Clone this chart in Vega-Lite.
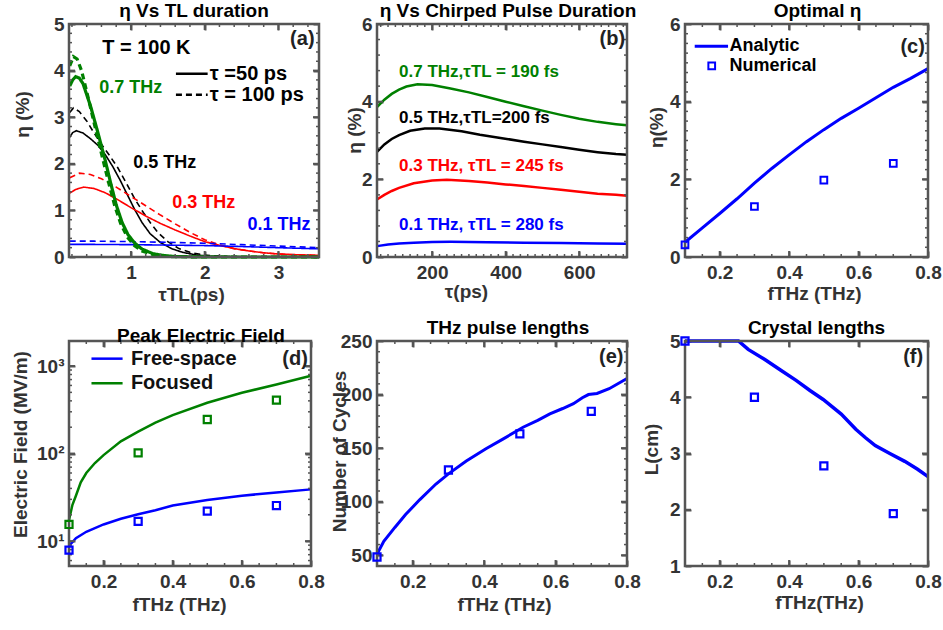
{
"$schema":"https://vega.github.io/schema/vega-lite/v6.json",
"background":"white",
"padding":{"left":10,"top":2,"right":4,"bottom":4},
"columns":3,
"spacing":{"row":84,"column":58},
"bounds":"flush",
"resolve":{"scale":{"color":"independent","strokeDash":"independent"}},
"config":{
 "font":"Liberation Sans",
 "view":{"stroke":null},
 "axis":{"grid":false,"domain":false,"zindex":1,"ticks":true,"labelFont":"Liberation Sans","labelFontSize":19,"labelFontWeight":"bold","labelColor":"#333333","labelFlush":false,"labelOverlap":false,"labelBound":false,"titleFont":"Liberation Sans","titleFontSize":19,"titleFontWeight":"bold","titleColor":"#333333","titleBaseline":"middle","titleAlign":"center","tickColor":"#555555","tickWidth":2,"tickSize":6,"offset":-6},
 "axisBottom":{"labelPadding":6},
 "axisLeft":{"labelPadding":5},
 "title":{"font":"Liberation Sans","fontSize":19,"fontWeight":"bold","color":"#000000","offset":-6,"anchor":"middle","frame":"group","baseline":"bottom"},
 "text":{"font":"Liberation Sans","fontWeight":"bold"}
},
"datasets":{
 "a":[
  {"x":0.17,"y":3.67,"s":"0.7 THz","t":"50"},{"x":0.21,"y":3.8,"s":"0.7 THz","t":"50"},{"x":0.25,"y":3.87,"s":"0.7 THz","t":"50"},{"x":0.3,"y":3.84,"s":"0.7 THz","t":"50"},{"x":0.35,"y":3.72,"s":"0.7 THz","t":"50"},{"x":0.45,"y":3.25,"s":"0.7 THz","t":"50"},{"x":0.55,"y":2.68,"s":"0.7 THz","t":"50"},{"x":0.65,"y":2.08,"s":"0.7 THz","t":"50"},{"x":0.72,"y":1.62,"s":"0.7 THz","t":"50"},{"x":0.8,"y":1.12,"s":"0.7 THz","t":"50"},{"x":0.88,"y":0.74,"s":"0.7 THz","t":"50"},{"x":0.96,"y":0.48,"s":"0.7 THz","t":"50"},{"x":1.05,"y":0.3,"s":"0.7 THz","t":"50"},{"x":1.15,"y":0.17,"s":"0.7 THz","t":"50"},{"x":1.3,"y":0.07,"s":"0.7 THz","t":"50"},{"x":1.45,"y":0.03,"s":"0.7 THz","t":"50"},{"x":1.6,"y":0.01,"s":"0.7 THz","t":"50"},{"x":2.0,"y":0,"s":"0.7 THz","t":"50"},{"x":3.55,"y":0,"s":"0.7 THz","t":"50"},
  {"x":0.17,"y":4.1,"s":"0.7 THz","t":"100"},{"x":0.22,"y":4.3,"s":"0.7 THz","t":"100"},{"x":0.27,"y":4.25,"s":"0.7 THz","t":"100"},{"x":0.33,"y":4.0,"s":"0.7 THz","t":"100"},{"x":0.4,"y":3.55,"s":"0.7 THz","t":"100"},{"x":0.5,"y":2.88,"s":"0.7 THz","t":"100"},{"x":0.6,"y":2.22,"s":"0.7 THz","t":"100"},{"x":0.7,"y":1.58,"s":"0.7 THz","t":"100"},{"x":0.78,"y":1.1,"s":"0.7 THz","t":"100"},{"x":0.86,"y":0.72,"s":"0.7 THz","t":"100"},{"x":0.95,"y":0.43,"s":"0.7 THz","t":"100"},{"x":1.05,"y":0.24,"s":"0.7 THz","t":"100"},{"x":1.15,"y":0.13,"s":"0.7 THz","t":"100"},{"x":1.3,"y":0.05,"s":"0.7 THz","t":"100"},{"x":1.5,"y":0.01,"s":"0.7 THz","t":"100"},{"x":2.0,"y":0,"s":"0.7 THz","t":"100"},{"x":3.55,"y":0,"s":"0.7 THz","t":"100"},
  {"x":0.17,"y":2.57,"s":"0.5 THz","t":"50"},{"x":0.21,"y":2.67,"s":"0.5 THz","t":"50"},{"x":0.26,"y":2.71,"s":"0.5 THz","t":"50"},{"x":0.35,"y":2.66,"s":"0.5 THz","t":"50"},{"x":0.45,"y":2.54,"s":"0.5 THz","t":"50"},{"x":0.55,"y":2.4,"s":"0.5 THz","t":"50"},{"x":0.65,"y":2.2,"s":"0.5 THz","t":"50"},{"x":0.75,"y":1.95,"s":"0.5 THz","t":"50"},{"x":0.85,"y":1.66,"s":"0.5 THz","t":"50"},{"x":0.95,"y":1.34,"s":"0.5 THz","t":"50"},{"x":1.05,"y":1.02,"s":"0.5 THz","t":"50"},{"x":1.15,"y":0.74,"s":"0.5 THz","t":"50"},{"x":1.26,"y":0.5,"s":"0.5 THz","t":"50"},{"x":1.4,"y":0.31,"s":"0.5 THz","t":"50"},{"x":1.55,"y":0.18,"s":"0.5 THz","t":"50"},{"x":1.7,"y":0.1,"s":"0.5 THz","t":"50"},{"x":1.9,"y":0.04,"s":"0.5 THz","t":"50"},{"x":2.1,"y":0.015,"s":"0.5 THz","t":"50"},{"x":2.5,"y":0,"s":"0.5 THz","t":"50"},{"x":3.55,"y":0,"s":"0.5 THz","t":"50"},
  {"x":0.17,"y":3.1,"s":"0.5 THz","t":"100"},{"x":0.22,"y":3.2,"s":"0.5 THz","t":"100"},{"x":0.3,"y":3.12,"s":"0.5 THz","t":"100"},{"x":0.4,"y":2.92,"s":"0.5 THz","t":"100"},{"x":0.5,"y":2.66,"s":"0.5 THz","t":"100"},{"x":0.6,"y":2.42,"s":"0.5 THz","t":"100"},{"x":0.7,"y":2.2,"s":"0.5 THz","t":"100"},{"x":0.82,"y":1.92,"s":"0.5 THz","t":"100"},{"x":0.95,"y":1.55,"s":"0.5 THz","t":"100"},{"x":1.05,"y":1.25,"s":"0.5 THz","t":"100"},{"x":1.17,"y":0.95,"s":"0.5 THz","t":"100"},{"x":1.27,"y":0.72,"s":"0.5 THz","t":"100"},{"x":1.37,"y":0.52,"s":"0.5 THz","t":"100"},{"x":1.5,"y":0.33,"s":"0.5 THz","t":"100"},{"x":1.65,"y":0.18,"s":"0.5 THz","t":"100"},{"x":1.8,"y":0.1,"s":"0.5 THz","t":"100"},{"x":2.0,"y":0.04,"s":"0.5 THz","t":"100"},{"x":2.3,"y":0.01,"s":"0.5 THz","t":"100"},{"x":2.7,"y":0,"s":"0.5 THz","t":"100"},{"x":3.55,"y":0,"s":"0.5 THz","t":"100"},
  {"x":0.17,"y":1.37,"s":"0.3 THz","t":"50"},{"x":0.25,"y":1.45,"s":"0.3 THz","t":"50"},{"x":0.36,"y":1.5,"s":"0.3 THz","t":"50"},{"x":0.5,"y":1.47,"s":"0.3 THz","t":"50"},{"x":0.65,"y":1.38,"s":"0.3 THz","t":"50"},{"x":0.8,"y":1.25,"s":"0.3 THz","t":"50"},{"x":1.0,"y":1.06,"s":"0.3 THz","t":"50"},{"x":1.2,"y":0.88,"s":"0.3 THz","t":"50"},{"x":1.4,"y":0.72,"s":"0.3 THz","t":"50"},{"x":1.6,"y":0.58,"s":"0.3 THz","t":"50"},{"x":1.8,"y":0.45,"s":"0.3 THz","t":"50"},{"x":2.0,"y":0.33,"s":"0.3 THz","t":"50"},{"x":2.2,"y":0.25,"s":"0.3 THz","t":"50"},{"x":2.4,"y":0.18,"s":"0.3 THz","t":"50"},{"x":2.6,"y":0.13,"s":"0.3 THz","t":"50"},{"x":2.8,"y":0.09,"s":"0.3 THz","t":"50"},{"x":3.0,"y":0.065,"s":"0.3 THz","t":"50"},{"x":3.3,"y":0.045,"s":"0.3 THz","t":"50"},{"x":3.55,"y":0.035,"s":"0.3 THz","t":"50"},
  {"x":0.17,"y":1.7,"s":"0.3 THz","t":"100"},{"x":0.3,"y":1.8,"s":"0.3 THz","t":"100"},{"x":0.45,"y":1.77,"s":"0.3 THz","t":"100"},{"x":0.6,"y":1.68,"s":"0.3 THz","t":"100"},{"x":0.8,"y":1.5,"s":"0.3 THz","t":"100"},{"x":1.0,"y":1.3,"s":"0.3 THz","t":"100"},{"x":1.2,"y":1.1,"s":"0.3 THz","t":"100"},{"x":1.4,"y":0.9,"s":"0.3 THz","t":"100"},{"x":1.6,"y":0.71,"s":"0.3 THz","t":"100"},{"x":1.8,"y":0.53,"s":"0.3 THz","t":"100"},{"x":2.0,"y":0.37,"s":"0.3 THz","t":"100"},{"x":2.2,"y":0.26,"s":"0.3 THz","t":"100"},{"x":2.4,"y":0.18,"s":"0.3 THz","t":"100"},{"x":2.6,"y":0.13,"s":"0.3 THz","t":"100"},{"x":2.8,"y":0.09,"s":"0.3 THz","t":"100"},{"x":3.0,"y":0.065,"s":"0.3 THz","t":"100"},{"x":3.3,"y":0.045,"s":"0.3 THz","t":"100"},{"x":3.55,"y":0.035,"s":"0.3 THz","t":"100"},
  {"x":0.17,"y":0.27,"s":"0.1 THz","t":"50"},{"x":0.5,"y":0.27,"s":"0.1 THz","t":"50"},{"x":1.0,"y":0.265,"s":"0.1 THz","t":"50"},{"x":1.5,"y":0.255,"s":"0.1 THz","t":"50"},{"x":2.0,"y":0.245,"s":"0.1 THz","t":"50"},{"x":2.5,"y":0.225,"s":"0.1 THz","t":"50"},{"x":3.0,"y":0.2,"s":"0.1 THz","t":"50"},{"x":3.55,"y":0.175,"s":"0.1 THz","t":"50"},
  {"x":0.17,"y":0.34,"s":"0.1 THz","t":"100"},{"x":0.5,"y":0.34,"s":"0.1 THz","t":"100"},{"x":1.0,"y":0.33,"s":"0.1 THz","t":"100"},{"x":1.5,"y":0.315,"s":"0.1 THz","t":"100"},{"x":2.0,"y":0.295,"s":"0.1 THz","t":"100"},{"x":2.5,"y":0.265,"s":"0.1 THz","t":"100"},{"x":3.0,"y":0.235,"s":"0.1 THz","t":"100"},{"x":3.55,"y":0.2,"s":"0.1 THz","t":"100"}
 ],
 "b":[
  {"x":50,"y":3.86,"s":"0.7 THz"},{"x":70,"y":4.05,"s":"0.7 THz"},{"x":90,"y":4.2,"s":"0.7 THz"},{"x":110,"y":4.31,"s":"0.7 THz"},{"x":130,"y":4.39,"s":"0.7 THz"},{"x":160,"y":4.45,"s":"0.7 THz"},{"x":200,"y":4.43,"s":"0.7 THz"},{"x":250,"y":4.34,"s":"0.7 THz"},{"x":300,"y":4.24,"s":"0.7 THz"},{"x":350,"y":4.12,"s":"0.7 THz"},{"x":400,"y":4.0,"s":"0.7 THz"},{"x":450,"y":3.88,"s":"0.7 THz"},{"x":500,"y":3.77,"s":"0.7 THz"},{"x":550,"y":3.66,"s":"0.7 THz"},{"x":600,"y":3.56,"s":"0.7 THz"},{"x":650,"y":3.48,"s":"0.7 THz"},{"x":700,"y":3.42,"s":"0.7 THz"},{"x":730,"y":3.39,"s":"0.7 THz"},
  {"x":50,"y":2.71,"s":"0.5 THz"},{"x":70,"y":2.9,"s":"0.5 THz"},{"x":90,"y":3.04,"s":"0.5 THz"},{"x":110,"y":3.14,"s":"0.5 THz"},{"x":140,"y":3.25,"s":"0.5 THz"},{"x":180,"y":3.31,"s":"0.5 THz"},{"x":220,"y":3.31,"s":"0.5 THz"},{"x":280,"y":3.24,"s":"0.5 THz"},{"x":330,"y":3.15,"s":"0.5 THz"},{"x":390,"y":3.06,"s":"0.5 THz"},{"x":450,"y":2.97,"s":"0.5 THz"},{"x":500,"y":2.9,"s":"0.5 THz"},{"x":550,"y":2.83,"s":"0.5 THz"},{"x":600,"y":2.76,"s":"0.5 THz"},{"x":650,"y":2.7,"s":"0.5 THz"},{"x":700,"y":2.65,"s":"0.5 THz"},{"x":730,"y":2.63,"s":"0.5 THz"},
  {"x":50,"y":1.48,"s":"0.3 THz"},{"x":70,"y":1.6,"s":"0.3 THz"},{"x":90,"y":1.7,"s":"0.3 THz"},{"x":110,"y":1.78,"s":"0.3 THz"},{"x":150,"y":1.9,"s":"0.3 THz"},{"x":200,"y":1.97,"s":"0.3 THz"},{"x":240,"y":1.99,"s":"0.3 THz"},{"x":300,"y":1.96,"s":"0.3 THz"},{"x":350,"y":1.92,"s":"0.3 THz"},{"x":400,"y":1.87,"s":"0.3 THz"},{"x":450,"y":1.83,"s":"0.3 THz"},{"x":500,"y":1.78,"s":"0.3 THz"},{"x":550,"y":1.73,"s":"0.3 THz"},{"x":600,"y":1.68,"s":"0.3 THz"},{"x":650,"y":1.63,"s":"0.3 THz"},{"x":700,"y":1.6,"s":"0.3 THz"},{"x":730,"y":1.58,"s":"0.3 THz"},
  {"x":50,"y":0.28,"s":"0.1 THz"},{"x":80,"y":0.32,"s":"0.1 THz"},{"x":110,"y":0.35,"s":"0.1 THz"},{"x":150,"y":0.37,"s":"0.1 THz"},{"x":200,"y":0.385,"s":"0.1 THz"},{"x":250,"y":0.39,"s":"0.1 THz"},{"x":350,"y":0.38,"s":"0.1 THz"},{"x":450,"y":0.37,"s":"0.1 THz"},{"x":550,"y":0.36,"s":"0.1 THz"},{"x":650,"y":0.345,"s":"0.1 THz"},{"x":730,"y":0.34,"s":"0.1 THz"}
 ],
 "c_line":[
  {"x":0.1,"y":0.38},{"x":0.15,"y":0.75},{"x":0.2,"y":1.12},{"x":0.25,"y":1.5},{"x":0.3,"y":1.9},{"x":0.35,"y":2.28},{"x":0.4,"y":2.63},{"x":0.45,"y":2.97},{"x":0.5,"y":3.28},{"x":0.55,"y":3.57},{"x":0.6,"y":3.83},{"x":0.65,"y":4.1},{"x":0.7,"y":4.37},{"x":0.75,"y":4.6},{"x":0.8,"y":4.85}
 ],
 "c_pts":[{"x":0.1,"y":0.31},{"x":0.3,"y":1.3},{"x":0.5,"y":1.98},{"x":0.7,"y":2.41}],
 "d_line":[
  {"x":0.1,"y":8.8,"s":"Free-space"},{"x":0.12,"y":10.8,"s":"Free-space"},{"x":0.15,"y":12.8,"s":"Free-space"},{"x":0.2,"y":15.5,"s":"Free-space"},{"x":0.25,"y":18,"s":"Free-space"},{"x":0.3,"y":20.3,"s":"Free-space"},{"x":0.35,"y":22.5,"s":"Free-space"},{"x":0.4,"y":25.5,"s":"Free-space"},{"x":0.5,"y":29.5,"s":"Free-space"},{"x":0.6,"y":33,"s":"Free-space"},{"x":0.7,"y":36,"s":"Free-space"},{"x":0.8,"y":39,"s":"Free-space"},
  {"x":0.1,"y":17.5,"s":"Focused"},{"x":0.11,"y":26,"s":"Focused"},{"x":0.12,"y":33,"s":"Focused"},{"x":0.134,"y":47,"s":"Focused"},{"x":0.15,"y":60,"s":"Focused"},{"x":0.175,"y":78,"s":"Focused"},{"x":0.2,"y":96,"s":"Focused"},{"x":0.25,"y":138,"s":"Focused"},{"x":0.3,"y":178,"s":"Focused"},{"x":0.35,"y":225,"s":"Focused"},{"x":0.4,"y":275,"s":"Focused"},{"x":0.5,"y":380,"s":"Focused"},{"x":0.6,"y":495,"s":"Focused"},{"x":0.7,"y":615,"s":"Focused"},{"x":0.8,"y":775,"s":"Focused"}
 ],
 "d_pts":[
  {"x":0.1,"y":7.9,"s":"Free-space"},{"x":0.3,"y":16.8,"s":"Free-space"},{"x":0.5,"y":22,"s":"Free-space"},{"x":0.7,"y":25.5,"s":"Free-space"},
  {"x":0.1,"y":15.5,"s":"Focused"},{"x":0.3,"y":102,"s":"Focused"},{"x":0.5,"y":245,"s":"Focused"},{"x":0.7,"y":407,"s":"Focused"}
 ],
 "e_line":[
  {"x":0.1,"y":51},{"x":0.119,"y":63},{"x":0.15,"y":76},{"x":0.18,"y":88},{"x":0.22,"y":102},{"x":0.265,"y":116.5},{"x":0.3,"y":126},{"x":0.35,"y":138},{"x":0.405,"y":149.5},{"x":0.45,"y":158},{"x":0.509,"y":169.5},{"x":0.55,"y":176},{"x":0.584,"y":182},{"x":0.62,"y":187},{"x":0.65,"y":191.5},{"x":0.675,"y":197},{"x":0.692,"y":200},{"x":0.716,"y":201},{"x":0.75,"y":205.5},{"x":0.8,"y":215}
 ],
 "e_pts":[{"x":0.1,"y":48.4},{"x":0.3,"y":129.6},{"x":0.5,"y":163.4},{"x":0.7,"y":184.4}],
 "f_line":[
  {"x":0.1,"y":5},{"x":0.2,"y":5},{"x":0.254,"y":5},{"x":0.282,"y":4.85},{"x":0.33,"y":4.67},{"x":0.376,"y":4.48},{"x":0.42,"y":4.3},{"x":0.46,"y":4.12},{"x":0.498,"y":3.96},{"x":0.55,"y":3.7},{"x":0.592,"y":3.43},{"x":0.62,"y":3.28},{"x":0.648,"y":3.14},{"x":0.69,"y":3.0},{"x":0.733,"y":2.86},{"x":0.77,"y":2.72},{"x":0.8,"y":2.59}
 ],
 "f_pts":[{"x":0.1,"y":5},{"x":0.3,"y":4.0},{"x":0.5,"y":2.78},{"x":0.7,"y":1.93}],
 "fx_major":[{"v":0.2},{"v":0.4},{"v":0.6}],
 "fx_minor":[{"v":0.15},{"v":0.25},{"v":0.3},{"v":0.35},{"v":0.45},{"v":0.5},{"v":0.55},{"v":0.65},{"v":0.7},{"v":0.75}]
},
"concat":[
 {
  "width":250,"height":233,
  "title":{"text":"η Vs TL duration"},
  "resolve":{"axis":{"x":"independent","y":"independent"}},
  "layer":[
   {"data":{"name":"a"},"transform":[{"filter":"datum.s != '0.7 THz'"}],
    "mark":{"type":"line","strokeWidth":1.6},
    "encoding":{
     "x":{"field":"x","type":"quantitative","scale":{"domain":[0.16,3.55],"nice":false,"zero":false},"axis":{"orient":"bottom","values":[1,2,3],"title":"τTL(ps)","titleX":122,"titleY":43}},
     "y":{"field":"y","type":"quantitative","scale":{"domain":[0,5],"nice":false,"zero":false},"axis":{"orient":"left","values":[0,1,2,3,4,5],"title":"η (%)","titleX":-53,"titleY":90}},
     "color":{"field":"s","type":"nominal","scale":{"domain":["0.7 THz","0.5 THz","0.3 THz","0.1 THz"],"range":["#008000","#000000","#ff0000","#0000ff"]},"legend":null},
     "strokeDash":{"field":"t","type":"nominal","scale":{"domain":["50","100"],"range":[[1,0],[6,4]]},"legend":null}
    }},
   {"data":{"name":"a"},"transform":[{"filter":"datum.s == '0.7 THz'"}],
    "mark":{"type":"line","strokeWidth":3.2},
    "encoding":{
     "x":{"field":"x","type":"quantitative","axis":null},
     "y":{"field":"y","type":"quantitative","axis":null},
     "color":{"field":"s","type":"nominal","legend":null},
     "strokeDash":{"field":"t","type":"nominal","legend":null}
    }},
   {"data":{"values":[{}]},
    "mark":{"type":"rect","fill":"#ffffff","fillOpacity":0,"stroke":"#555555","strokeWidth":2.5,"opacity":1},
    "encoding":{"x":{"datum":0.16,"type":"quantitative","axis":null},"x2":{"datum":3.55},"y":{"datum":0,"type":"quantitative","axis":null},"y2":{"datum":5}}},
   {"data":{"values":[{"v":1},{"v":2},{"v":3}]},"mark":{"type":"rule","color":"#555555","strokeWidth":2,"y2Offset":-6},
    "encoding":{"x":{"field":"v","type":"quantitative","axis":null},"y":{"datum":0,"type":"quantitative","axis":null},"y2":{"datum":0}}},
   {"data":{"values":[{"v":1},{"v":2},{"v":3}]},"mark":{"type":"rule","color":"#555555","strokeWidth":2,"y2Offset":6},
    "encoding":{"x":{"field":"v","type":"quantitative","axis":null},"y":{"datum":5,"type":"quantitative","axis":null},"y2":{"datum":5}}},
   {"data":{"values":[{"v":0.2},{"v":0.4},{"v":0.6},{"v":0.8},{"v":1.2},{"v":1.4},{"v":1.6},{"v":1.8},{"v":2.2},{"v":2.4},{"v":2.6},{"v":2.8},{"v":3.2},{"v":3.4}]},"mark":{"type":"rule","color":"#555555","strokeWidth":1.5,"y2Offset":-3},
    "encoding":{"x":{"field":"v","type":"quantitative","axis":null},"y":{"datum":0,"type":"quantitative","axis":null},"y2":{"datum":0}}},
   {"data":{"values":[{"v":0.2},{"v":0.4},{"v":0.6},{"v":0.8},{"v":1.2},{"v":1.4},{"v":1.6},{"v":1.8},{"v":2.2},{"v":2.4},{"v":2.6},{"v":2.8},{"v":3.2},{"v":3.4}]},"mark":{"type":"rule","color":"#555555","strokeWidth":1.5,"y2Offset":3},
    "encoding":{"x":{"field":"v","type":"quantitative","axis":null},"y":{"datum":5,"type":"quantitative","axis":null},"y2":{"datum":5}}},
   {"data":{"values":[{"v":1},{"v":2},{"v":3},{"v":4}]},"mark":{"type":"rule","color":"#555555","strokeWidth":2,"x2Offset":6},
    "encoding":{"y":{"field":"v","type":"quantitative","axis":null},"x":{"datum":0.16,"type":"quantitative","axis":null},"x2":{"datum":0.16}}},
   {"data":{"values":[{"v":1},{"v":2},{"v":3},{"v":4}]},"mark":{"type":"rule","color":"#555555","strokeWidth":2,"x2Offset":-6},
    "encoding":{"y":{"field":"v","type":"quantitative","axis":null},"x":{"datum":3.55,"type":"quantitative","axis":null},"x2":{"datum":3.55}}},
   {"data":{"values":[{"v":0.2},{"v":0.4},{"v":0.6},{"v":0.8},{"v":1.2},{"v":1.4},{"v":1.6},{"v":1.8},{"v":2.2},{"v":2.4},{"v":2.6},{"v":2.8},{"v":3.2},{"v":3.4},{"v":3.6},{"v":3.8},{"v":4.2},{"v":4.4},{"v":4.6},{"v":4.8}]},"mark":{"type":"rule","color":"#555555","strokeWidth":1.5,"x2Offset":3},
    "encoding":{"y":{"field":"v","type":"quantitative","axis":null},"x":{"datum":0.16,"type":"quantitative","axis":null},"x2":{"datum":0.16}}},
   {"data":{"values":[{"v":0.2},{"v":0.4},{"v":0.6},{"v":0.8},{"v":1.2},{"v":1.4},{"v":1.6},{"v":1.8},{"v":2.2},{"v":2.4},{"v":2.6},{"v":2.8},{"v":3.2},{"v":3.4},{"v":3.6},{"v":3.8},{"v":4.2},{"v":4.4},{"v":4.6},{"v":4.8}]},"mark":{"type":"rule","color":"#555555","strokeWidth":1.5,"x2Offset":-3},
    "encoding":{"y":{"field":"v","type":"quantitative","axis":null},"x":{"datum":3.55,"type":"quantitative","axis":null},"x2":{"datum":3.55}}},
   {"data":{"values":[{"x":0.57,"y":3.63,"label":"0.7 THz","s":"0.7 THz"},{"x":1.03,"y":2.01,"label":"0.5 THz","s":"0.5 THz"},{"x":1.56,"y":1.15,"label":"0.3 THz","s":"0.3 THz"},{"x":2.58,"y":0.68,"label":"0.1 THz","s":"0.1 THz"}]},
    "mark":{"type":"text","align":"left","baseline":"middle","fontSize":18,"fontWeight":"bold"},
    "encoding":{
     "x":{"field":"x","type":"quantitative","axis":null},
     "y":{"field":"y","type":"quantitative","axis":null},
     "text":{"field":"label"},
     "color":{"field":"s","type":"nominal","legend":null}
    }},
   {"data":{"values":[{"x":0.61,"y":4.49,"label":"T = 100 K"},{"x":2.07,"y":3.93,"label":"τ =50 ps"},{"x":2.07,"y":3.48,"label":"τ = 100 ps"}]},
    "mark":{"type":"text","align":"left","baseline":"middle","fontSize":20,"fontWeight":"bold","color":"#000000"},
    "encoding":{
     "x":{"field":"x","type":"quantitative","axis":null},
     "y":{"field":"y","type":"quantitative","axis":null},
     "text":{"field":"label"}
    }},
   {"data":{"values":[{"x":3.49,"y":4.68,"label":"(a)"}]},
    "mark":{"type":"text","align":"right","baseline":"middle","fontSize":20,"fontWeight":"bold","color":"#222222"},
    "encoding":{
     "x":{"field":"x","type":"quantitative","axis":null},
     "y":{"field":"y","type":"quantitative","axis":null},
     "text":{"field":"label"}
    }},
   {"data":{"values":[{"x":1.61,"x2":2.04,"y":3.93,"t":"50"},{"x":1.61,"x2":2.04,"y":3.48,"t":"100"}]},
    "mark":{"type":"rule","strokeWidth":2.5,"color":"#000000"},
    "encoding":{
     "x":{"field":"x","type":"quantitative","axis":null},
     "x2":{"field":"x2"},
     "y":{"field":"y","type":"quantitative","axis":null},
     "strokeDash":{"field":"t","type":"nominal","legend":null}
    }},
   {"data":{"name":"a"},"mark":{"type":"point","opacity":0},
    "encoding":{
     "x":{"field":"x","type":"quantitative","axis":{"orient":"top","values":[1,2,3],"labels":false,"title":null}},
     "y":{"field":"y","type":"quantitative","axis":{"orient":"right","values":[0,1,2,3,4,5],"labels":false,"title":null}}
    }}
  ]
 },
 {
  "width":250,"height":233,
  "title":{"text":"η Vs Chirped Pulse Duration","dx":6},
  "resolve":{"axis":{"x":"independent","y":"independent"}},
  "layer":[
   {"data":{"name":"b"},
    "mark":{"type":"line","strokeWidth":2.5},
    "encoding":{
     "x":{"field":"x","type":"quantitative","scale":{"domain":[50,730],"nice":false,"zero":false},"axis":{"orient":"bottom","values":[200,400,600],"title":"τ(ps)","titleX":89,"titleY":40}},
     "y":{"field":"y","type":"quantitative","scale":{"domain":[0,6],"nice":false,"zero":false},"axis":{"orient":"left","values":[0,2,4,6],"title":"η (%)","titleX":-29,"titleY":106}},
     "color":{"field":"s","type":"nominal","scale":{"domain":["0.7 THz","0.5 THz","0.3 THz","0.1 THz"],"range":["#008000","#000000","#ff0000","#0000ff"]},"legend":null}
    }},
   {"data":{"values":[{}]},
    "mark":{"type":"rect","fill":"#ffffff","fillOpacity":0,"stroke":"#555555","strokeWidth":2.5,"opacity":1},
    "encoding":{"x":{"datum":50,"type":"quantitative","axis":null},"x2":{"datum":730},"y":{"datum":0,"type":"quantitative","axis":null},"y2":{"datum":6}}},
   {"data":{"values":[{"v":200},{"v":400},{"v":600}]},"mark":{"type":"rule","color":"#555555","strokeWidth":2,"y2Offset":-6},
    "encoding":{"x":{"field":"v","type":"quantitative","axis":null},"y":{"datum":0,"type":"quantitative","axis":null},"y2":{"datum":0}}},
   {"data":{"values":[{"v":200},{"v":400},{"v":600}]},"mark":{"type":"rule","color":"#555555","strokeWidth":2,"y2Offset":6},
    "encoding":{"x":{"field":"v","type":"quantitative","axis":null},"y":{"datum":6,"type":"quantitative","axis":null},"y2":{"datum":6}}},
   {"data":{"values":[{"v":60},{"v":80},{"v":100},{"v":120},{"v":140},{"v":160},{"v":180},{"v":220},{"v":240},{"v":260},{"v":280},{"v":300},{"v":320},{"v":340},{"v":360},{"v":380},{"v":420},{"v":440},{"v":460},{"v":480},{"v":500},{"v":520},{"v":540},{"v":560},{"v":580},{"v":620},{"v":640},{"v":660},{"v":680},{"v":700},{"v":720}]},"mark":{"type":"rule","color":"#555555","strokeWidth":1.5,"y2Offset":-3},
    "encoding":{"x":{"field":"v","type":"quantitative","axis":null},"y":{"datum":0,"type":"quantitative","axis":null},"y2":{"datum":0}}},
   {"data":{"values":[{"v":60},{"v":80},{"v":100},{"v":120},{"v":140},{"v":160},{"v":180},{"v":220},{"v":240},{"v":260},{"v":280},{"v":300},{"v":320},{"v":340},{"v":360},{"v":380},{"v":420},{"v":440},{"v":460},{"v":480},{"v":500},{"v":520},{"v":540},{"v":560},{"v":580},{"v":620},{"v":640},{"v":660},{"v":680},{"v":700},{"v":720}]},"mark":{"type":"rule","color":"#555555","strokeWidth":1.5,"y2Offset":3},
    "encoding":{"x":{"field":"v","type":"quantitative","axis":null},"y":{"datum":6,"type":"quantitative","axis":null},"y2":{"datum":6}}},
   {"data":{"values":[{"v":2},{"v":4}]},"mark":{"type":"rule","color":"#555555","strokeWidth":2,"x2Offset":6},
    "encoding":{"y":{"field":"v","type":"quantitative","axis":null},"x":{"datum":50,"type":"quantitative","axis":null},"x2":{"datum":50}}},
   {"data":{"values":[{"v":2},{"v":4}]},"mark":{"type":"rule","color":"#555555","strokeWidth":2,"x2Offset":-6},
    "encoding":{"y":{"field":"v","type":"quantitative","axis":null},"x":{"datum":730,"type":"quantitative","axis":null},"x2":{"datum":730}}},
   {"data":{"values":[{"v":0.4},{"v":0.8},{"v":1.2},{"v":1.6},{"v":2.4},{"v":2.8},{"v":3.2},{"v":3.6},{"v":4.4},{"v":4.8},{"v":5.2},{"v":5.6}]},"mark":{"type":"rule","color":"#555555","strokeWidth":1.5,"x2Offset":3},
    "encoding":{"y":{"field":"v","type":"quantitative","axis":null},"x":{"datum":50,"type":"quantitative","axis":null},"x2":{"datum":50}}},
   {"data":{"values":[{"v":0.4},{"v":0.8},{"v":1.2},{"v":1.6},{"v":2.4},{"v":2.8},{"v":3.2},{"v":3.6},{"v":4.4},{"v":4.8},{"v":5.2},{"v":5.6}]},"mark":{"type":"rule","color":"#555555","strokeWidth":1.5,"x2Offset":-3},
    "encoding":{"y":{"field":"v","type":"quantitative","axis":null},"x":{"datum":730,"type":"quantitative","axis":null},"x2":{"datum":730}}},
   {"data":{"values":[{"x":110,"y":4.76,"label":"0.7 THz,τTL = 190 fs","s":"0.7 THz"},{"x":110,"y":3.59,"label":"0.5 THz,τTL=200 fs","s":"0.5 THz"},{"x":110,"y":2.35,"label":"0.3 THz, τTL = 245 fs","s":"0.3 THz"},{"x":110,"y":0.83,"label":"0.1 THz, τTL = 280 fs","s":"0.1 THz"}]},
    "mark":{"type":"text","align":"left","baseline":"middle","fontSize":17,"fontWeight":"bold"},
    "encoding":{
     "x":{"field":"x","type":"quantitative","axis":null},
     "y":{"field":"y","type":"quantitative","axis":null},
     "text":{"field":"label"},
     "color":{"field":"s","type":"nominal","legend":null}
    }},
   {"data":{"values":[{"x":725,"y":5.61,"label":"(b)"}]},
    "mark":{"type":"text","align":"right","baseline":"middle","fontSize":20,"fontWeight":"bold","color":"#222222"},
    "encoding":{
     "x":{"field":"x","type":"quantitative","axis":null},
     "y":{"field":"y","type":"quantitative","axis":null},
     "text":{"field":"label"}
    }},
   {"data":{"name":"b"},"mark":{"type":"point","opacity":0},
    "encoding":{
     "x":{"field":"x","type":"quantitative","axis":{"orient":"top","values":[200,400,600],"labels":false,"title":null}},
     "y":{"field":"y","type":"quantitative","axis":{"orient":"right","values":[0,2,4,6],"labels":false,"title":null}}
    }}
  ]
 },
 {
  "width":243,"height":233,
  "title":{"text":"Optimal η","dx":11},
  "resolve":{"axis":{"x":"independent","y":"independent"}},
  "layer":[
   {"data":{"name":"c_line"},
    "mark":{"type":"line","strokeWidth":3,"color":"#0000ff"},
    "encoding":{
     "x":{"field":"x","type":"quantitative","scale":{"domain":[0.1,0.8],"nice":false,"zero":false},"axis":{"orient":"bottom","values":[0.2,0.4,0.6,0.8],"title":"fTHz (THz)","titleX":129,"titleY":42}},
     "y":{"field":"y","type":"quantitative","scale":{"domain":[0,6],"nice":false,"zero":false},"axis":{"orient":"left","values":[0,2,4,6],"title":"η(%)","titleX":-35,"titleY":103}}
    }},
   {"data":{"values":[{}]},
    "mark":{"type":"rect","fill":"#ffffff","fillOpacity":0,"stroke":"#555555","strokeWidth":2.5,"opacity":1},
    "encoding":{"x":{"datum":0.1,"type":"quantitative","axis":null},"x2":{"datum":0.8},"y":{"datum":0,"type":"quantitative","axis":null},"y2":{"datum":6}}},
   {"data":{"name":"fx_major"},"mark":{"type":"rule","color":"#555555","strokeWidth":2,"y2Offset":-6},
    "encoding":{"x":{"field":"v","type":"quantitative","axis":null},"y":{"datum":0,"type":"quantitative","axis":null},"y2":{"datum":0}}},
   {"data":{"name":"fx_major"},"mark":{"type":"rule","color":"#555555","strokeWidth":2,"y2Offset":6},
    "encoding":{"x":{"field":"v","type":"quantitative","axis":null},"y":{"datum":6,"type":"quantitative","axis":null},"y2":{"datum":6}}},
   {"data":{"name":"fx_minor"},"mark":{"type":"rule","color":"#555555","strokeWidth":1.5,"y2Offset":-3},
    "encoding":{"x":{"field":"v","type":"quantitative","axis":null},"y":{"datum":0,"type":"quantitative","axis":null},"y2":{"datum":0}}},
   {"data":{"name":"fx_minor"},"mark":{"type":"rule","color":"#555555","strokeWidth":1.5,"y2Offset":3},
    "encoding":{"x":{"field":"v","type":"quantitative","axis":null},"y":{"datum":6,"type":"quantitative","axis":null},"y2":{"datum":6}}},
   {"data":{"values":[{"v":2},{"v":4}]},"mark":{"type":"rule","color":"#555555","strokeWidth":2,"x2Offset":6},
    "encoding":{"y":{"field":"v","type":"quantitative","axis":null},"x":{"datum":0.1,"type":"quantitative","axis":null},"x2":{"datum":0.1}}},
   {"data":{"values":[{"v":2},{"v":4}]},"mark":{"type":"rule","color":"#555555","strokeWidth":2,"x2Offset":-6},
    "encoding":{"y":{"field":"v","type":"quantitative","axis":null},"x":{"datum":0.8,"type":"quantitative","axis":null},"x2":{"datum":0.8}}},
   {"data":{"values":[{"v":0.25},{"v":0.5},{"v":0.75},{"v":1},{"v":1.25},{"v":1.5},{"v":1.75},{"v":2.25},{"v":2.5},{"v":2.75},{"v":3},{"v":3.25},{"v":3.5},{"v":3.75},{"v":4.25},{"v":4.5},{"v":4.75},{"v":5},{"v":5.25},{"v":5.5},{"v":5.75}]},"mark":{"type":"rule","color":"#555555","strokeWidth":1.5,"x2Offset":3},
    "encoding":{"y":{"field":"v","type":"quantitative","axis":null},"x":{"datum":0.1,"type":"quantitative","axis":null},"x2":{"datum":0.1}}},
   {"data":{"values":[{"v":0.25},{"v":0.5},{"v":0.75},{"v":1},{"v":1.25},{"v":1.5},{"v":1.75},{"v":2.25},{"v":2.5},{"v":2.75},{"v":3},{"v":3.25},{"v":3.5},{"v":3.75},{"v":4.25},{"v":4.5},{"v":4.75},{"v":5},{"v":5.25},{"v":5.5},{"v":5.75}]},"mark":{"type":"rule","color":"#555555","strokeWidth":1.5,"x2Offset":-3},
    "encoding":{"y":{"field":"v","type":"quantitative","axis":null},"x":{"datum":0.8,"type":"quantitative","axis":null},"x2":{"datum":0.8}}},
   {"data":{"name":"c_pts"},
    "mark":{"type":"point","shape":"square","filled":false,"size":45,"strokeWidth":2,"color":"#0000ff","opacity":1},
    "encoding":{
     "x":{"field":"x","type":"quantitative","axis":null},
     "y":{"field":"y","type":"quantitative","axis":null}
    }},
   {"data":{"values":[{"x":0.128,"x2":0.224,"y":5.43}]},
    "mark":{"type":"rule","strokeWidth":3,"color":"#0000ff"},
    "encoding":{
     "x":{"field":"x","type":"quantitative","axis":null},
     "x2":{"field":"x2"},
     "y":{"field":"y","type":"quantitative","axis":null}
    }},
   {"data":{"values":[{"x":0.177,"y":4.92}]},
    "mark":{"type":"point","shape":"square","filled":false,"size":45,"strokeWidth":2,"color":"#0000ff","opacity":1},
    "encoding":{
     "x":{"field":"x","type":"quantitative","axis":null},
     "y":{"field":"y","type":"quantitative","axis":null}
    }},
   {"data":{"values":[{"x":0.228,"y":5.43,"label":"Analytic"},{"x":0.228,"y":4.92,"label":"Numerical"}]},
    "mark":{"type":"text","align":"left","baseline":"middle","fontSize":18,"fontWeight":"bold","color":"#000000"},
    "encoding":{
     "x":{"field":"x","type":"quantitative","axis":null},
     "y":{"field":"y","type":"quantitative","axis":null},
     "text":{"field":"label"}
    }},
   {"data":{"values":[{"x":0.791,"y":5.41,"label":"(c)"}]},
    "mark":{"type":"text","align":"right","baseline":"middle","fontSize":20,"fontWeight":"bold","color":"#222222"},
    "encoding":{
     "x":{"field":"x","type":"quantitative","axis":null},
     "y":{"field":"y","type":"quantitative","axis":null},
     "text":{"field":"label"}
    }},
   {"data":{"name":"c_line"},"mark":{"type":"point","opacity":0},
    "encoding":{
     "x":{"field":"x","type":"quantitative","axis":{"orient":"top","values":[0.2,0.4,0.6,0.8],"labels":false,"title":null}},
     "y":{"field":"y","type":"quantitative","axis":{"orient":"right","values":[0,2,4,6],"labels":false,"title":null}}
    }}
  ]
 },
 {
  "width":242,"height":225,
  "title":{"text":"Peak Electric Field","dx":11},
  "resolve":{"axis":{"x":"independent","y":"independent"}},
  "layer":[
   {"data":{"name":"d_line"},
    "mark":{"type":"line","strokeWidth":2.5},
    "encoding":{
     "x":{"field":"x","type":"quantitative","scale":{"domain":[0.1,0.8],"nice":false,"zero":false},"axis":{"orient":"bottom","values":[0.2,0.4,0.6,0.8],"title":"fTHz (THz)","titleX":110,"titleY":44}},
     "y":{"field":"y","type":"quantitative","scale":{"type":"log","domain":[5.2,1930],"nice":false},"axis":{"orient":"left","values":[10,100,1000],"labelExpr":"datum.value == 10 ? '10¹' : datum.value == 100 ? '10²' : '10³'","title":"Electric Field (MV/m)","titleX":-55,"titleY":103}},
     "color":{"field":"s","type":"nominal","scale":{"domain":["Free-space","Focused"],"range":["#0000ff","#008000"]},"legend":null}
    }},
   {"data":{"values":[{}]},
    "mark":{"type":"rect","fill":"#ffffff","fillOpacity":0,"stroke":"#555555","strokeWidth":2.5,"opacity":1},
    "encoding":{"x":{"datum":0.1,"type":"quantitative","axis":null},"x2":{"datum":0.8},"y":{"datum":5.2,"type":"quantitative","scale":{"type":"log"},"axis":null},"y2":{"datum":1930}}},
   {"data":{"name":"fx_major"},"mark":{"type":"rule","color":"#555555","strokeWidth":2,"y2Offset":-6},
    "encoding":{"x":{"field":"v","type":"quantitative","axis":null},"y":{"datum":5.2,"type":"quantitative","scale":{"type":"log"},"axis":null},"y2":{"datum":5.2}}},
   {"data":{"name":"fx_major"},"mark":{"type":"rule","color":"#555555","strokeWidth":2,"y2Offset":6},
    "encoding":{"x":{"field":"v","type":"quantitative","axis":null},"y":{"datum":1930,"type":"quantitative","scale":{"type":"log"},"axis":null},"y2":{"datum":1930}}},
   {"data":{"name":"fx_minor"},"mark":{"type":"rule","color":"#555555","strokeWidth":1.5,"y2Offset":-3},
    "encoding":{"x":{"field":"v","type":"quantitative","axis":null},"y":{"datum":5.2,"type":"quantitative","scale":{"type":"log"},"axis":null},"y2":{"datum":5.2}}},
   {"data":{"name":"fx_minor"},"mark":{"type":"rule","color":"#555555","strokeWidth":1.5,"y2Offset":3},
    "encoding":{"x":{"field":"v","type":"quantitative","axis":null},"y":{"datum":1930,"type":"quantitative","scale":{"type":"log"},"axis":null},"y2":{"datum":1930}}},
   {"data":{"values":[{"v":10},{"v":100},{"v":1000}]},"mark":{"type":"rule","color":"#555555","strokeWidth":2,"x2Offset":6},
    "encoding":{"y":{"field":"v","type":"quantitative","scale":{"type":"log"},"axis":null},"x":{"datum":0.1,"type":"quantitative","axis":null},"x2":{"datum":0.1}}},
   {"data":{"values":[{"v":10},{"v":100},{"v":1000}]},"mark":{"type":"rule","color":"#555555","strokeWidth":2,"x2Offset":-6},
    "encoding":{"y":{"field":"v","type":"quantitative","scale":{"type":"log"},"axis":null},"x":{"datum":0.8,"type":"quantitative","axis":null},"x2":{"datum":0.8}}},
   {"data":{"values":[{"v":6},{"v":7},{"v":8},{"v":9},{"v":20},{"v":30},{"v":40},{"v":50},{"v":60},{"v":70},{"v":80},{"v":90},{"v":200},{"v":300},{"v":400},{"v":500},{"v":600},{"v":700},{"v":800},{"v":900}]},"mark":{"type":"rule","color":"#555555","strokeWidth":1.5,"x2Offset":3},
    "encoding":{"y":{"field":"v","type":"quantitative","scale":{"type":"log"},"axis":null},"x":{"datum":0.1,"type":"quantitative","axis":null},"x2":{"datum":0.1}}},
   {"data":{"values":[{"v":6},{"v":7},{"v":8},{"v":9},{"v":20},{"v":30},{"v":40},{"v":50},{"v":60},{"v":70},{"v":80},{"v":90},{"v":200},{"v":300},{"v":400},{"v":500},{"v":600},{"v":700},{"v":800},{"v":900}]},"mark":{"type":"rule","color":"#555555","strokeWidth":1.5,"x2Offset":-3},
    "encoding":{"y":{"field":"v","type":"quantitative","scale":{"type":"log"},"axis":null},"x":{"datum":0.8,"type":"quantitative","axis":null},"x2":{"datum":0.8}}},
   {"data":{"name":"d_pts"},
    "mark":{"type":"point","shape":"square","filled":false,"size":50,"strokeWidth":2.2,"opacity":1},
    "encoding":{
     "x":{"field":"x","type":"quantitative","axis":null},
     "y":{"field":"y","type":"quantitative","scale":{"type":"log"},"axis":null},
     "color":{"field":"s","type":"nominal","legend":null}
    }},
   {"data":{"values":[{"x":0.165,"x2":0.255,"y":1213,"s":"Free-space"},{"x":0.165,"x2":0.255,"y":635,"s":"Focused"}]},
    "mark":{"type":"rule","strokeWidth":2.5},
    "encoding":{
     "x":{"field":"x","type":"quantitative","axis":null},
     "x2":{"field":"x2"},
     "y":{"field":"y","type":"quantitative","scale":{"type":"log"},"axis":null},
     "color":{"field":"s","type":"nominal","legend":null}
    }},
   {"data":{"values":[{"x":0.279,"y":1213,"label":"Free-space"},{"x":0.279,"y":635,"label":"Focused"}]},
    "mark":{"type":"text","align":"left","baseline":"middle","fontSize":20,"fontWeight":"bold","color":"#111111"},
    "encoding":{
     "x":{"field":"x","type":"quantitative","axis":null},
     "y":{"field":"y","type":"quantitative","scale":{"type":"log"},"axis":null},
     "text":{"field":"label"}
    }},
   {"data":{"values":[{"x":0.791,"y":1213,"label":"(d)"}]},
    "mark":{"type":"text","align":"right","baseline":"middle","fontSize":20,"fontWeight":"bold","color":"#222222"},
    "encoding":{
     "x":{"field":"x","type":"quantitative","axis":null},
     "y":{"field":"y","type":"quantitative","scale":{"type":"log"},"axis":null},
     "text":{"field":"label"}
    }},
   {"data":{"name":"d_line"},"mark":{"type":"point","opacity":0},
    "encoding":{
     "x":{"field":"x","type":"quantitative","axis":{"orient":"top","values":[0.2,0.4,0.6,0.8],"labels":false,"title":null}},
     "y":{"field":"y","type":"quantitative","scale":{"type":"log"},"axis":{"orient":"right","values":[10,100,1000],"labels":false,"title":null}}
    }}
  ]
 },
 {
  "width":250,"height":225,
  "title":{"text":"THz pulse lengths","dx":6},
  "resolve":{"axis":{"x":"independent","y":"independent"}},
  "layer":[
   {"data":{"name":"e_line"},
    "mark":{"type":"line","strokeWidth":3,"color":"#0000ff"},
    "encoding":{
     "x":{"field":"x","type":"quantitative","scale":{"domain":[0.1,0.8],"nice":false,"zero":false},"axis":{"orient":"bottom","values":[0.2,0.4,0.6,0.8],"title":"fTHz (THz)","titleX":127,"titleY":44}},
     "y":{"field":"y","type":"quantitative","scale":{"domain":[40,250],"nice":false,"zero":false},"axis":{"orient":"left","values":[50,100,150,200,250],"title":"Number of Cycles","titleX":-44,"titleY":110}}
    }},
   {"data":{"values":[{}]},
    "mark":{"type":"rect","fill":"#ffffff","fillOpacity":0,"stroke":"#555555","strokeWidth":2.5,"opacity":1},
    "encoding":{"x":{"datum":0.1,"type":"quantitative","axis":null},"x2":{"datum":0.8},"y":{"datum":40,"type":"quantitative","axis":null},"y2":{"datum":250}}},
   {"data":{"name":"fx_major"},"mark":{"type":"rule","color":"#555555","strokeWidth":2,"y2Offset":-6},
    "encoding":{"x":{"field":"v","type":"quantitative","axis":null},"y":{"datum":40,"type":"quantitative","axis":null},"y2":{"datum":40}}},
   {"data":{"name":"fx_major"},"mark":{"type":"rule","color":"#555555","strokeWidth":2,"y2Offset":6},
    "encoding":{"x":{"field":"v","type":"quantitative","axis":null},"y":{"datum":250,"type":"quantitative","axis":null},"y2":{"datum":250}}},
   {"data":{"name":"fx_minor"},"mark":{"type":"rule","color":"#555555","strokeWidth":1.5,"y2Offset":-3},
    "encoding":{"x":{"field":"v","type":"quantitative","axis":null},"y":{"datum":40,"type":"quantitative","axis":null},"y2":{"datum":40}}},
   {"data":{"name":"fx_minor"},"mark":{"type":"rule","color":"#555555","strokeWidth":1.5,"y2Offset":3},
    "encoding":{"x":{"field":"v","type":"quantitative","axis":null},"y":{"datum":250,"type":"quantitative","axis":null},"y2":{"datum":250}}},
   {"data":{"values":[{"v":50},{"v":100},{"v":150},{"v":200}]},"mark":{"type":"rule","color":"#555555","strokeWidth":2,"x2Offset":6},
    "encoding":{"y":{"field":"v","type":"quantitative","axis":null},"x":{"datum":0.1,"type":"quantitative","axis":null},"x2":{"datum":0.1}}},
   {"data":{"values":[{"v":50},{"v":100},{"v":150},{"v":200}]},"mark":{"type":"rule","color":"#555555","strokeWidth":2,"x2Offset":-6},
    "encoding":{"y":{"field":"v","type":"quantitative","axis":null},"x":{"datum":0.8,"type":"quantitative","axis":null},"x2":{"datum":0.8}}},
   {"data":{"values":[{"v":60},{"v":70},{"v":80},{"v":90},{"v":110},{"v":120},{"v":130},{"v":140},{"v":160},{"v":170},{"v":180},{"v":190},{"v":210},{"v":220},{"v":230},{"v":240}]},"mark":{"type":"rule","color":"#555555","strokeWidth":1.5,"x2Offset":3},
    "encoding":{"y":{"field":"v","type":"quantitative","axis":null},"x":{"datum":0.1,"type":"quantitative","axis":null},"x2":{"datum":0.1}}},
   {"data":{"values":[{"v":60},{"v":70},{"v":80},{"v":90},{"v":110},{"v":120},{"v":130},{"v":140},{"v":160},{"v":170},{"v":180},{"v":190},{"v":210},{"v":220},{"v":230},{"v":240}]},"mark":{"type":"rule","color":"#555555","strokeWidth":1.5,"x2Offset":-3},
    "encoding":{"y":{"field":"v","type":"quantitative","axis":null},"x":{"datum":0.8,"type":"quantitative","axis":null},"x2":{"datum":0.8}}},
   {"data":{"name":"e_pts"},
    "mark":{"type":"point","shape":"square","filled":false,"size":50,"strokeWidth":2.2,"color":"#0000ff","opacity":1},
    "encoding":{
     "x":{"field":"x","type":"quantitative","axis":null},
     "y":{"field":"y","type":"quantitative","axis":null}
    }},
   {"data":{"values":[{"x":0.79,"y":235,"label":"(e)"}]},
    "mark":{"type":"text","align":"right","baseline":"middle","fontSize":20,"fontWeight":"bold","color":"#222222"},
    "encoding":{
     "x":{"field":"x","type":"quantitative","axis":null},
     "y":{"field":"y","type":"quantitative","axis":null},
     "text":{"field":"label"}
    }},
   {"data":{"name":"e_line"},"mark":{"type":"point","opacity":0},
    "encoding":{
     "x":{"field":"x","type":"quantitative","axis":{"orient":"top","values":[0.2,0.4,0.6,0.8],"labels":false,"title":null}},
     "y":{"field":"y","type":"quantitative","axis":{"orient":"right","values":[50,100,150,200,250],"labels":false,"title":null}}
    }}
  ]
 },
 {
  "width":243,"height":225,
  "title":{"text":"Crystal lengths","dx":10},
  "resolve":{"axis":{"x":"independent","y":"independent"}},
  "layer":[
   {"data":{"name":"f_line"},
    "mark":{"type":"line","strokeWidth":3.5,"color":"#0000ff"},
    "encoding":{
     "x":{"field":"x","type":"quantitative","scale":{"domain":[0.1,0.8],"nice":false,"zero":false},"axis":{"orient":"bottom","values":[0.2,0.4,0.6,0.8],"title":"fTHz(THz)","titleX":134,"titleY":42}},
     "y":{"field":"y","type":"quantitative","scale":{"domain":[1,5],"nice":false,"zero":false},"axis":{"orient":"left","values":[1,2,3,4,5],"title":"L(cm)","titleX":-40,"titleY":108}}
    }},
   {"data":{"values":[{}]},
    "mark":{"type":"rect","fill":"#ffffff","fillOpacity":0,"stroke":"#555555","strokeWidth":2.5,"opacity":1},
    "encoding":{"x":{"datum":0.1,"type":"quantitative","axis":null},"x2":{"datum":0.8},"y":{"datum":1,"type":"quantitative","axis":null},"y2":{"datum":5}}},
   {"data":{"name":"fx_major"},"mark":{"type":"rule","color":"#555555","strokeWidth":2,"y2Offset":-6},
    "encoding":{"x":{"field":"v","type":"quantitative","axis":null},"y":{"datum":1,"type":"quantitative","axis":null},"y2":{"datum":1}}},
   {"data":{"name":"fx_major"},"mark":{"type":"rule","color":"#555555","strokeWidth":2,"y2Offset":6},
    "encoding":{"x":{"field":"v","type":"quantitative","axis":null},"y":{"datum":5,"type":"quantitative","axis":null},"y2":{"datum":5}}},
   {"data":{"name":"fx_minor"},"mark":{"type":"rule","color":"#555555","strokeWidth":1.5,"y2Offset":-3},
    "encoding":{"x":{"field":"v","type":"quantitative","axis":null},"y":{"datum":1,"type":"quantitative","axis":null},"y2":{"datum":1}}},
   {"data":{"values":[{"v":2},{"v":3},{"v":4}]},"mark":{"type":"rule","color":"#555555","strokeWidth":2,"x2Offset":6},
    "encoding":{"y":{"field":"v","type":"quantitative","axis":null},"x":{"datum":0.1,"type":"quantitative","axis":null},"x2":{"datum":0.1}}},
   {"data":{"values":[{"v":2},{"v":3},{"v":4}]},"mark":{"type":"rule","color":"#555555","strokeWidth":2,"x2Offset":-6},
    "encoding":{"y":{"field":"v","type":"quantitative","axis":null},"x":{"datum":0.8,"type":"quantitative","axis":null},"x2":{"datum":0.8}}},
   {"data":{"name":"f_pts"},
    "mark":{"type":"point","shape":"square","filled":false,"size":50,"strokeWidth":2.2,"color":"#0000ff","opacity":1},
    "encoding":{
     "x":{"field":"x","type":"quantitative","axis":null},
     "y":{"field":"y","type":"quantitative","axis":null}
    }},
   {"data":{"values":[{"x":0.786,"y":4.71,"label":"(f)"}]},
    "mark":{"type":"text","align":"right","baseline":"middle","fontSize":20,"fontWeight":"bold","color":"#222222"},
    "encoding":{
     "x":{"field":"x","type":"quantitative","axis":null},
     "y":{"field":"y","type":"quantitative","axis":null},
     "text":{"field":"label"}
    }},
   {"data":{"name":"f_line"},"mark":{"type":"point","opacity":0},
    "encoding":{
     "x":{"field":"x","type":"quantitative","axis":{"orient":"top","values":[0.2,0.4,0.6,0.8],"labels":false,"title":null}},
     "y":{"field":"y","type":"quantitative","axis":{"orient":"right","values":[1,2,3,4,5],"labels":false,"title":null}}
    }}
  ]
 }
]
}
